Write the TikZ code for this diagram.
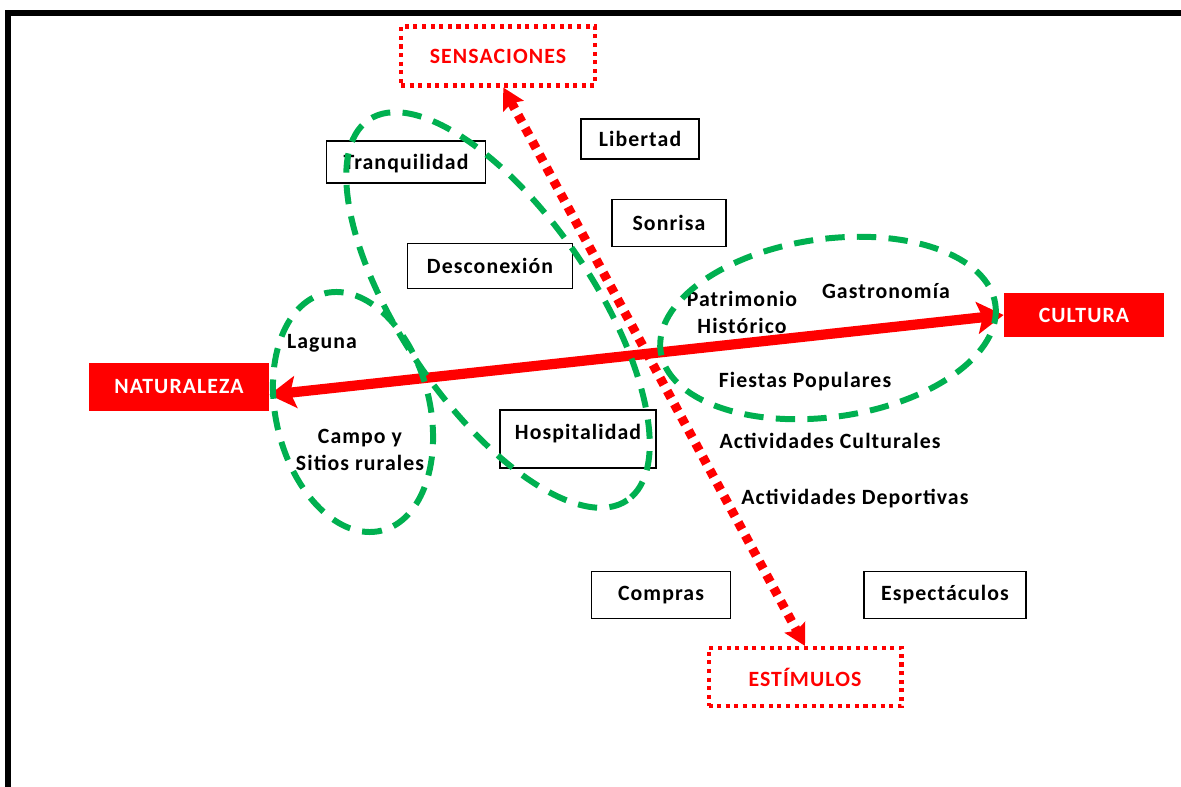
\documentclass[tikz,border=0pt]{standalone}
\usepackage{fontspec}
\setmainfont{Carlito}[LetterSpace=5]
\usetikzlibrary{arrows.meta}
\definecolor{verde}{RGB}{0,176,80}

\begin{document}
\begin{tikzpicture}[x=0.02cm, y=-0.02cm,
    every node/.style={font=\fontsize{12.4}{15.4}\selectfont\bfseries},
    caja/.style={draw, line width=1pt, inner sep=0pt},
    cajaroja/.style={fill=red, text=white, inner sep=0pt},
    cajapuntos/.style={draw=red, text=red, line width=2.3pt, dash pattern=on 2.3pt off 2.6pt, inner sep=0pt},
    texto/.style={align=center},
    elipse/.style={draw=verde, line width=3.4pt, dash pattern=on 11pt off 7pt}]
    \useasboundingbox (0,0) rectangle (1181,787);
    \draw[line width=3pt] (8,800) -- (8,13) -- (1200,13);

    \node[cajapuntos, minimum width=3.88cm, minimum height=1.18cm] (sensaciones) at (498,56) {SENSACIONES};
    \node[cajapuntos, minimum width=3.86cm, minimum height=1.16cm] (estimulos) at (805,677) {ESTÍMULOS};
    \node[cajaroja, minimum width=3.6cm, minimum height=0.96cm] (naturaleza) at (179,387) {NATURALEZA};
    \node[cajaroja, minimum width=3.2cm, minimum height=0.88cm] (cultura) at (1084,315) {CULTURA};

    \node[caja, minimum width=3.18cm, minimum height=0.84cm, text depth=-1pt] (tranquilidad) at (406,162) {Tranquilidad};
    \node[caja, minimum width=2.36cm, minimum height=0.8cm] (libertad) at (640,139) {Libertad};
    \node[caja, minimum width=2.28cm, minimum height=0.94cm] (sonrisa) at (669,223) {Sonrisa};
    \node[caja, minimum width=3.3cm, minimum height=0.9cm] (desconexion) at (490,266) {Desconexión};
    \node[caja, minimum width=3.12cm, minimum height=1.16cm, text depth=8pt] (hospitalidad) at (578,439) {Hospitalidad};
    \node[caja, minimum width=2.78cm, minimum height=0.94cm] (compras) at (661,595) {Compras};
    \node[caja, minimum width=3.24cm, minimum height=0.94cm] (espectaculos) at (945,595) {Espectáculos};

    \node[texto] (laguna) at (322,343) {Laguna};
    \node[texto] (campo) at (360,450) {Campo y\\Sitios rurales};
    \node[texto] (patrimonio) at (742,312) {Patrimonio\\Histórico};
    \node[texto] (gastronomia) at (886,291) {Gastronomía};
    \node[texto] (fiestas) at (805,382) {Fiestas Populares};
    \node[texto] (culturales) at (830,441) {Actividades Culturales};
    \node[texto] (deportivas) at (855,499) {Actividades Deportivas};

    \draw[red, line width=5.8pt, {Stealth[length=15pt,width=18pt,inset=3pt]}-{Stealth[length=15pt,width=18pt,inset=3pt]}] ([yshift=-4.5pt]naturaleza.east) -- (cultura.west);
    \draw[red, line width=5.2pt, dash pattern=on 4.5pt off 4pt, {Stealth[length=12pt,width=13pt,inset=2pt]}-{Stealth[length=12pt,width=13pt,inset=2pt]}] ([xshift=3pt]sensaciones.south) -- (estimulos.north);

    \draw[elipse, rotate around={-76.6:(353,412)}] (353,412) ellipse [x radius=122, y radius=77];
    \draw[elipse, rotate around={-55.8:(498,310)}] (498,310) ellipse [x radius=230, y radius=96];
    \draw[elipse, rotate around={8:(828,328)}] (828,328) ellipse [x radius=169, y radius=89];
\end{tikzpicture}
\end{document}
